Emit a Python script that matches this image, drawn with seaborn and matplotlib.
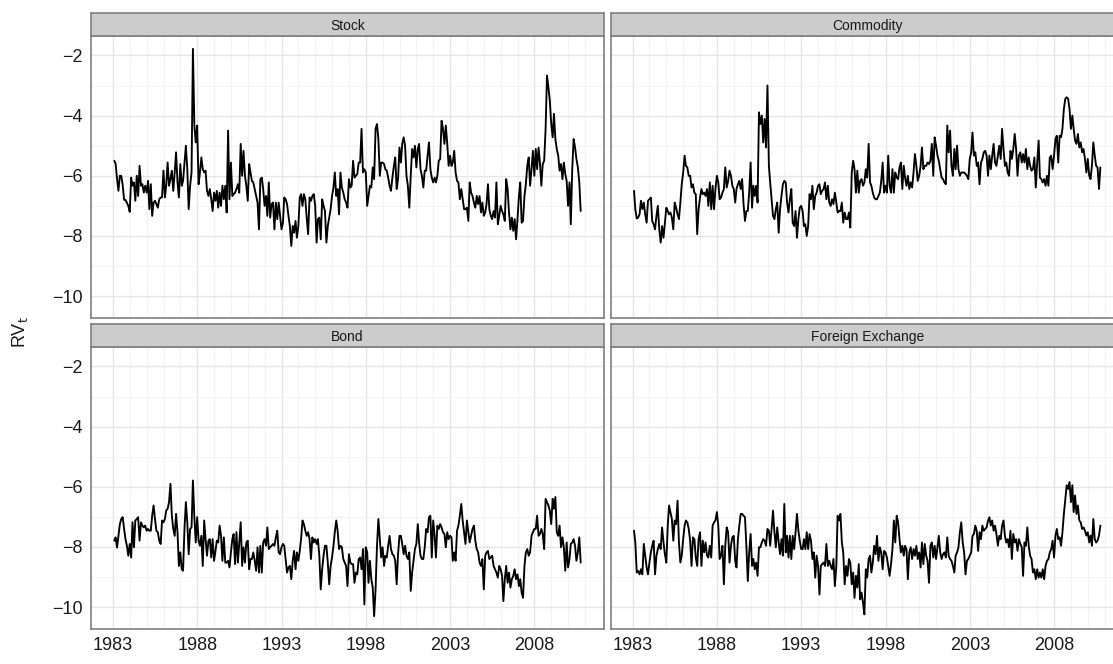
import numpy as np
import pandas as pd
import matplotlib
matplotlib.use("Agg")
import matplotlib.pyplot as plt
import matplotlib.dates as mdates
import seaborn as sns

# Monthly log realized volatility, Jan 1983 - Sep 2010 (333 months)
months = pd.date_range("1983-01-01", periods=333, freq="MS") + pd.offsets.MonthEnd(1)

stock = [
    -5.50, -5.60, -6.10, -6.50, -6.00, -6.00, -6.30, -6.80, -6.80, -6.90, -7.00, -7.20,
    -6.06, -6.33, -6.22, -6.83, -6.00, -6.67, -5.67, -6.33, -6.28, -6.56, -6.33, -6.56,
    -6.17, -7.11, -6.28, -7.33, -6.89, -6.83, -6.94, -7.06, -6.78, -6.72, -6.72, -5.83,
    -6.72, -6.33, -5.56, -6.33, -6.11, -5.83, -6.50, -5.89, -5.22, -6.22, -6.72, -5.61,
    -6.33, -6.17, -5.56, -5.00, -5.78, -7.11, -6.33, -5.89, -1.78, -4.33, -4.89, -4.33,
    -6.28, -5.89, -5.39, -5.78, -5.89, -5.83, -6.50, -6.67, -6.44, -6.78, -7.17, -6.56,
    -6.83, -6.50, -7.06, -6.56, -7.00, -6.33, -6.78, -6.33, -7.22, -4.50, -6.78, -5.56,
    -6.67, -6.61, -6.56, -6.44, -6.28, -6.56, -4.94, -6.00, -5.17, -6.00, -6.33, -6.83,
    -5.61, -5.89, -6.17, -6.22, -6.44, -6.67, -6.89, -7.78, -6.11, -6.06, -6.44, -7.00,
    -6.67, -7.33, -6.22, -7.39, -6.94, -6.89, -7.78, -6.89, -7.44, -6.89, -7.33, -7.78,
    -7.56, -6.72, -6.78, -6.94, -7.33, -7.67, -8.33, -7.67, -7.89, -7.50, -8.06, -7.67,
    -6.72, -6.61, -7.00, -6.61, -6.78, -7.39, -7.94, -6.72, -6.83, -6.67, -6.61, -7.00,
    -8.22, -7.44, -7.39, -8.11, -6.78, -7.00, -7.17, -8.22, -7.67, -7.39, -7.11, -6.67,
    -6.39, -5.89, -6.67, -6.44, -7.28, -5.89, -6.39, -6.56, -6.78, -6.89, -7.06, -6.11,
    -6.39, -6.33, -5.50, -6.06, -6.00, -5.94, -5.56, -5.56, -4.44, -5.89, -5.78, -5.89,
    -7.00, -6.67, -6.33, -6.39, -5.72, -6.11, -4.44, -4.28, -4.78, -6.00, -5.56, -5.56,
    -5.61, -5.78, -5.83, -6.06, -6.33, -6.50, -6.06, -5.67, -5.39, -6.44, -6.11, -5.06,
    -5.56, -4.94, -4.72, -5.00, -6.00, -6.33, -7.06, -6.00, -5.11, -5.39, -5.00, -5.72,
    -5.11, -4.94, -5.78, -6.00, -6.39, -5.83, -5.83, -5.33, -4.89, -5.78, -6.06, -6.22,
    -6.06, -6.22, -6.00, -5.50, -5.44, -4.17, -4.44, -4.94, -4.33, -4.94, -5.67, -5.33,
    -5.67, -5.56, -5.17, -5.89, -6.17, -6.22, -6.78, -6.44, -6.78, -7.11, -7.11, -7.06,
    -7.50, -6.22, -6.56, -6.67, -6.89, -7.06, -6.67, -6.94, -6.67, -7.22, -6.89, -7.33,
    -7.22, -6.94, -6.28, -7.11, -7.33, -7.44, -7.17, -7.39, -6.22, -7.61, -7.33, -7.00,
    -7.17, -7.28, -7.50, -6.11, -6.44, -7.22, -7.78, -7.39, -7.83, -7.44, -8.11, -7.44,
    -6.67, -6.22, -7.56, -7.50, -6.67, -6.28, -5.67, -5.39, -6.33, -5.78, -5.17, -6.00,
    -5.11, -5.78, -5.06, -5.56, -6.33, -5.61, -5.50, -4.44, -2.67, -3.06, -3.50, -4.28,
    -4.72, -3.94, -4.78, -5.11, -5.33, -5.83, -5.61, -6.11, -5.56, -5.94, -6.17, -7.00,
    -6.22, -7.61, -5.78, -4.78, -5.06, -5.44, -5.72, -6.22, -7.17,
]

commodity = [
    -6.50, -7.11, -7.42, -7.39, -7.28, -6.83, -7.11, -6.89, -7.28, -7.56, -6.83, -6.78,
    -6.72, -7.50, -7.61, -7.78, -7.33, -7.00, -7.78, -8.22, -7.67, -8.06, -7.56, -7.06,
    -7.17, -7.28, -7.22, -7.39, -7.78, -6.89, -7.06, -7.28, -7.44, -6.89, -6.28, -5.89,
    -5.33, -5.67, -5.72, -6.00, -6.00, -6.39, -6.28, -6.56, -6.61, -7.94, -7.11, -6.72,
    -6.44, -6.61, -6.56, -6.67, -6.44, -7.00, -6.22, -7.11, -6.33, -7.11, -6.44, -6.00,
    -6.22, -6.78, -6.72, -6.56, -6.44, -5.72, -6.39, -6.17, -5.83, -6.00, -6.33, -6.44,
    -6.89, -6.44, -6.28, -6.17, -6.44, -6.11, -6.94, -7.50, -7.17, -7.17, -6.56, -5.56,
    -7.06, -6.33, -6.67, -6.33, -6.89, -3.89, -4.28, -4.00, -4.89, -4.11, -5.06, -3.00,
    -5.67, -6.22, -6.78, -7.33, -7.44, -7.11, -6.89, -7.89, -7.11, -6.67, -6.28, -6.17,
    -6.22, -6.89, -7.22, -6.78, -6.44, -7.56, -7.67, -7.17, -8.06, -7.44, -7.06, -7.00,
    -7.17, -7.67, -7.61, -8.00, -7.67, -6.61, -6.78, -6.33, -7.11, -6.67, -6.56, -6.33,
    -6.28, -6.61, -6.50, -6.44, -6.22, -6.78, -6.33, -6.89, -7.00, -6.78, -6.94, -6.56,
    -6.89, -7.22, -7.17, -7.17, -6.89, -7.56, -7.22, -7.44, -7.44, -7.22, -7.72, -5.89,
    -5.50, -5.78, -6.56, -5.83, -6.56, -6.17, -6.11, -6.33, -6.22, -5.78, -6.06, -4.94,
    -6.22, -6.33, -6.56, -6.72, -6.78, -6.78, -6.67, -6.56, -6.17, -5.56, -6.56, -6.33,
    -6.56, -5.33, -6.33, -6.56, -5.78, -6.56, -5.89, -6.06, -6.11, -5.72, -5.56, -6.44,
    -5.67, -6.06, -6.33, -6.00, -6.44, -6.22, -6.39, -5.89, -5.28, -5.67, -6.17, -6.00,
    -5.67, -5.06, -5.78, -5.67, -5.67, -5.56, -5.61, -5.50, -4.94, -6.00, -4.72, -5.00,
    -5.33, -5.50, -5.78, -6.06, -6.11, -6.22, -6.28, -4.33, -5.22, -4.50, -5.67, -6.00,
    -5.11, -5.78, -5.00, -5.78, -6.00, -5.89, -5.89, -5.89, -5.94, -6.00, -6.11, -5.44,
    -5.22, -4.56, -5.33, -5.22, -5.67, -5.56, -6.28, -5.56, -5.44, -5.22, -5.17, -5.33,
    -6.00, -5.33, -5.78, -5.33, -4.94, -5.56, -5.67, -5.33, -5.00, -5.44, -4.44, -5.11,
    -5.67, -5.56, -5.89, -6.00, -5.17, -5.44, -5.11, -4.61, -5.11, -6.00, -5.33, -5.22,
    -5.56, -5.28, -5.56, -5.11, -5.78, -5.39, -5.67, -5.83, -5.78, -5.39, -6.39, -5.56,
    -4.83, -6.06, -6.11, -6.22, -6.11, -6.33, -6.00, -6.33, -5.39, -5.33, -5.78, -5.33,
    -4.78, -4.67, -5.56, -4.67, -4.72, -4.44, -3.78, -3.44, -3.39, -3.44, -3.78, -4.44,
    -4.00, -4.44, -4.83, -4.94, -4.61, -5.06, -4.89, -5.22, -5.11, -5.44, -5.89, -5.44,
    -6.00, -6.11, -5.67, -4.89, -5.33, -5.67, -5.72, -6.44, -5.72,
]

bond = [
    -7.79, -7.68, -8.02, -7.63, -7.24, -7.07, -7.01, -7.40, -7.74, -7.96, -8.29, -7.90,
    -8.35, -7.18, -8.01, -7.12, -7.07, -7.01, -7.79, -7.18, -7.29, -7.35, -7.29, -7.46,
    -7.40, -7.46, -7.46, -6.96, -6.62, -7.07, -7.46, -7.51, -7.79, -7.90, -7.12, -7.18,
    -7.07, -6.79, -6.73, -6.51, -5.90, -6.96, -7.40, -7.63, -6.90, -7.51, -8.63, -8.18,
    -8.74, -8.79, -7.40, -6.51, -7.18, -8.24, -7.40, -7.35, -5.79, -7.01, -7.85, -7.01,
    -7.79, -7.96, -7.63, -8.63, -7.12, -7.74, -8.29, -7.79, -7.74, -8.35, -7.74, -8.46,
    -8.13, -7.79, -7.85, -7.29, -7.63, -8.46, -7.68, -8.52, -8.52, -8.46, -8.68, -8.18,
    -7.74, -7.57, -8.57, -7.51, -8.52, -7.85, -7.18, -8.63, -8.01, -8.52, -7.85, -7.79,
    -8.74, -8.40, -8.40, -8.18, -8.46, -8.79, -8.01, -8.85, -7.96, -8.85, -7.85, -7.74,
    -7.96, -7.35, -8.07, -8.01, -7.96, -7.90, -7.96, -7.68, -7.46, -8.18, -8.24, -8.01,
    -7.90, -7.96, -8.40, -8.85, -8.68, -8.63, -9.07, -8.46, -8.13, -8.74, -8.18, -8.46,
    -8.13, -7.74, -7.12, -7.24, -7.46, -7.63, -7.51, -7.74, -8.40, -7.68, -7.85, -7.74,
    -7.90, -7.74, -8.29, -9.41, -8.74, -8.29, -7.96, -7.96, -8.52, -9.24, -8.63, -8.35,
    -7.96, -7.51, -7.12, -7.46, -8.07, -7.96, -8.01, -8.40, -8.52, -8.63, -9.30, -8.24,
    -8.52, -8.57, -8.57, -9.19, -8.85, -8.91, -8.40, -8.35, -8.74, -8.07, -9.91, -8.01,
    -8.18, -9.19, -8.46, -9.07, -9.35, -10.30, -9.41, -7.96, -7.07, -7.74, -8.35, -8.01,
    -8.63, -8.29, -8.35, -7.96, -7.63, -8.07, -8.24, -8.29, -8.46, -9.24, -8.24, -7.63,
    -7.63, -7.90, -8.24, -7.96, -8.29, -8.40, -8.18, -9.46, -8.85, -8.46, -8.07, -7.90,
    -7.24, -7.85, -8.29, -8.40, -8.40, -8.01, -7.40, -7.51, -7.01, -6.96, -8.35, -7.12,
    -7.63, -8.35, -7.29, -7.40, -7.24, -7.35, -7.51, -7.57, -8.01, -7.51, -7.74, -7.63,
    -7.68, -8.46, -8.18, -8.46, -7.46, -7.29, -6.96, -6.57, -7.12, -7.51, -7.90, -7.12,
    -7.51, -7.85, -7.63, -7.40, -7.29, -7.79, -8.07, -8.18, -8.52, -8.63, -8.40, -9.41,
    -8.29, -8.18, -8.13, -8.40, -8.35, -8.29, -8.63, -8.74, -8.85, -9.02, -8.63, -8.74,
    -8.96, -9.80, -9.07, -8.63, -9.19, -8.85, -9.35, -9.07, -8.96, -8.74, -9.07, -8.91,
    -9.30, -9.07, -9.52, -9.69, -8.63, -8.18, -8.07, -8.29, -8.18, -7.63, -7.51, -7.40,
    -7.40, -6.96, -7.63, -7.57, -7.40, -7.57, -8.07, -6.40, -6.51, -6.62, -6.79, -7.24,
    -6.40, -6.73, -6.34, -7.51, -7.63, -7.29, -8.01, -7.68, -8.01, -8.79, -7.85, -8.68,
    -8.40, -7.90, -7.85, -7.74, -7.96, -8.46, -8.18, -7.68, -8.52,
]

fx = [
    -7.46, -7.85, -8.85, -8.80, -8.91, -8.74, -8.91, -7.90, -8.29, -8.68, -8.91, -8.52,
    -8.18, -7.96, -7.79, -8.91, -8.29, -8.07, -7.90, -8.07, -7.35, -7.85, -8.24, -8.52,
    -7.29, -6.62, -6.84, -7.07, -7.79, -7.12, -7.24, -6.46, -7.85, -8.52, -8.29, -7.74,
    -7.29, -7.12, -7.18, -7.40, -7.79, -8.63, -7.68, -7.74, -8.35, -8.63, -7.74, -7.51,
    -8.63, -7.79, -8.18, -7.85, -8.29, -8.35, -7.96, -8.35, -7.29, -7.18, -7.12, -6.84,
    -7.29, -8.40, -8.29, -7.96, -9.24, -7.96, -7.35, -7.51, -8.52, -7.96, -7.68, -7.63,
    -8.46, -8.68, -7.74, -7.29, -6.90, -6.90, -6.96, -7.01, -7.96, -9.13, -8.18, -7.57,
    -8.63, -8.40, -8.74, -8.52, -8.96, -8.01, -8.01, -7.85, -7.74, -7.79, -7.96, -7.40,
    -7.46, -7.96, -7.40, -6.79, -7.51, -8.01, -7.35, -7.85, -8.24, -7.74, -8.29, -6.57,
    -8.18, -7.63, -8.35, -7.63, -8.40, -7.63, -8.07, -7.51, -6.90, -7.46, -7.79, -8.07,
    -8.07, -7.74, -8.07, -7.51, -8.07, -7.57, -7.79, -8.40, -8.18, -9.02, -8.29, -8.63,
    -9.58, -8.63, -8.57, -8.52, -8.63, -7.90, -8.63, -8.46, -8.63, -8.74, -8.40, -9.30,
    -8.63, -6.96, -7.12, -6.90, -7.85, -8.18, -9.24, -8.63, -8.96, -8.40, -8.52, -9.24,
    -8.85, -9.69, -8.96, -9.35, -8.57, -9.74, -9.52, -9.85, -10.24, -8.74, -9.02, -8.40,
    -8.29, -8.85, -8.52, -7.96, -8.24, -7.63, -8.46, -8.01, -8.18, -8.74, -8.13, -8.18,
    -8.35, -8.63, -8.96, -8.57, -8.07, -7.12, -7.85, -6.96, -7.18, -7.74, -8.18, -7.96,
    -8.29, -7.96, -8.07, -9.07, -8.18, -8.01, -8.40, -8.07, -8.29, -7.96, -8.40, -8.18,
    -8.68, -7.85, -8.57, -7.90, -8.29, -8.46, -9.19, -7.96, -7.85, -8.35, -7.96, -8.40,
    -8.01, -7.63, -8.18, -8.40, -8.24, -8.18, -8.35, -7.68, -8.29, -8.40, -8.46, -8.63,
    -8.85, -8.29, -8.18, -8.01, -7.51, -7.18, -7.85, -8.18, -8.91, -8.46, -8.40, -8.29,
    -8.18, -7.63, -7.57, -7.29, -7.46, -8.13, -7.51, -7.74, -7.29, -7.46, -7.40, -7.35,
    -7.12, -7.01, -7.29, -7.12, -7.46, -7.29, -7.57, -7.96, -7.63, -7.74, -7.29, -7.12,
    -7.63, -7.85, -7.74, -8.01, -7.46, -8.40, -7.57, -7.85, -7.74, -8.13, -7.74, -7.90,
    -8.01, -8.96, -7.85, -7.96, -7.35, -7.96, -8.29, -8.40, -8.85, -8.74, -9.07, -8.74,
    -9.02, -8.85, -9.02, -8.74, -9.07, -8.63, -8.46, -8.40, -8.18, -8.07, -7.79, -8.35,
    -7.63, -7.40, -7.74, -7.68, -7.96, -7.51, -6.90, -6.40, -5.95, -6.07, -5.84, -6.51,
    -5.95, -6.84, -6.29, -6.90, -6.62, -7.12, -7.18, -7.40, -7.35, -7.46, -7.62, -7.51,
    -7.85, -7.62, -7.96, -7.07, -7.74, -7.85, -7.79, -7.62, -7.29,
]

panel_names = ["Stock", "Commodity", "Bond", "Foreign Exchange"]
series = [stock, commodity, bond, fx]
tick_years = [1983, 1988, 1993, 1998, 2003, 2008]
y_ticks = [-10, -8, -6, -4, -2]

df = pd.concat(
    [pd.DataFrame({"date": months, "rv": vals, "market": name})
     for name, vals in zip(panel_names, series)],
    ignore_index=True,
)

sns.set_theme(style="white")
plt.rcParams["font.family"] = ["Liberation Sans", "DejaVu Sans"]

W, H = 1113, 664
fig = plt.figure(figsize=(W / 100, H / 100), dpi=100)

# panel geometry in pixels: (left, top) of each panel
pw, ph = 513, 282
strip_h = 23
lefts = [91, 610.7]
tops = [36, 347]

x0 = mdates.date2num(months[0])
x1 = mdates.date2num(months[-1])
xpad = 0.05 * (x1 - x0)
lo, hi = df["rv"].min(), df["rv"].max()
ypad = 0.05 * (hi - lo)

border = "#7F7F7F"
for i, name in enumerate(panel_names):
    r, c = divmod(i, 2)
    L, T = lefts[c], tops[r]
    ax = fig.add_axes([L / W, 1 - (T + ph) / H, pw / W, ph / H])
    sub = df[df["market"] == name]
    sns.lineplot(data=sub, x="date", y="rv", ax=ax, color="black",
                 linewidth=1.35, estimator=None, legend=False)
    ax.set_xlim(x0 - xpad, x1 + xpad)
    ax.set_ylim(lo - ypad, hi + ypad)

    ax.set_xticks([mdates.date2num(pd.Timestamp(f"{y}-01-01")) for y in tick_years])
    ax.set_xticks([mdates.date2num(pd.Timestamp(f"{y}-01-01")) for y in range(1983, 2012)],
                  minor=True)
    ax.set_yticks(y_ticks)
    ax.set_yticks([-9, -7, -5, -3], minor=True)
    ax.grid(which="major", color="#E6E6E6", linewidth=1.0)
    ax.grid(which="minor", color="#F3F3F3", linewidth=0.8)
    ax.set_axisbelow(True)
    ax.set_facecolor("white")
    for sp in ax.spines.values():
        sp.set_color(border)
        sp.set_linewidth(1.2)
    ax.tick_params(which="minor", length=0)
    ax.tick_params(which="major", length=4, width=1.0, color="#4D4D4D",
                   labelsize=13, labelcolor="#1A1A1A", pad=2)
    ax.set_xlabel("")
    ax.set_ylabel("")
    if r == 1:
        ax.set_xticklabels([str(y) for y in tick_years])
    else:
        ax.tick_params(axis="x", length=0, labelbottom=False)
    if c == 0:
        ax.set_yticklabels([f"\u2212{abs(v)}" for v in y_ticks])
    else:
        ax.tick_params(axis="y", length=0, labelleft=False)

    # facet strip
    sax = fig.add_axes([L / W, 1 - T / H, pw / W, strip_h / H])
    sax.set_facecolor("#CCCCCC")
    sax.set_xticks([])
    sax.set_yticks([])
    for sp in sax.spines.values():
        sp.set_color(border)
        sp.set_linewidth(1.2)
    sax.text(0.5, 0.45, name, ha="center", va="center", fontsize=10,
             color="#1A1A1A", transform=sax.transAxes)

fig.text(20 / W, 0.5, r"RV$_\mathrm{t}$", rotation=90, ha="center", va="center",
         fontsize=13, color="#1A1A1A")

fig.savefig("out.png", dpi=100, facecolor="white")
